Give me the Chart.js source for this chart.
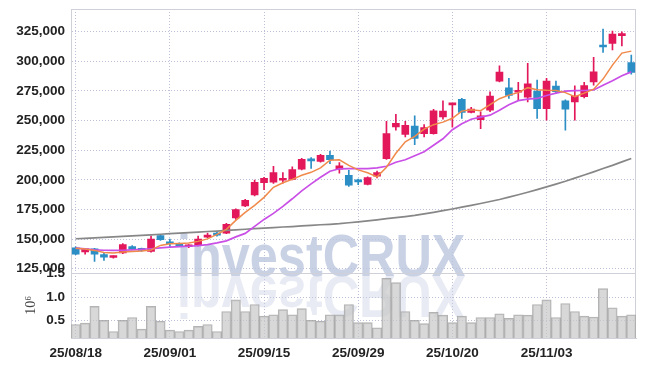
<!DOCTYPE html>
<html>
<head>
<meta charset="utf-8">
<script src="https://cdn.jsdelivr.net/npm/chart.js@4.4.1/dist/chart.umd.min.js"></script>
<style>
    html, body { margin: 0; padding: 0; background: #fff; }
    #wrap { width: 645px; height: 366px; }
</style>
</head>
<body>
<div id="wrap"><canvas id="myChart"></canvas></div>
<script>
var dates = ['25/08/18','25/08/19','25/08/20','25/08/21','25/08/22','25/08/25','25/08/26','25/08/27','25/08/28','25/08/29',
    '25/09/01','25/09/02','25/09/03','25/09/04','25/09/05','25/09/08','25/09/09','25/09/10','25/09/11','25/09/12',
    '25/09/15','25/09/16','25/09/17','25/09/18','25/09/19','25/09/22','25/09/23','25/09/24','25/09/25','25/09/26',
    '25/09/29','25/09/30','25/10/01','25/10/02','25/10/10','25/10/13','25/10/14','25/10/15','25/10/16','25/10/17',
    '25/10/20','25/10/21','25/10/22','25/10/23','25/10/24','25/10/27','25/10/28','25/10/29','25/10/30','25/10/31',
    '25/11/03','25/11/04','25/11/05','25/11/06','25/11/07','25/11/10','25/11/11','25/11/12','25/11/13','25/11/14'];

var opens = [142700,139300,141900,137000,134500,138300,143800,141900,139600,153000,
    146600,146300,143600,144700,151700,155000,155000,167800,177900,187200,
    197600,198100,199600,200400,208900,216300,215600,220700,208900,203800,
    198600,196200,203000,217900,244600,238200,245200,239000,239000,253100,
    263200,267900,256900,250800,258700,283200,277600,273800,269700,274800,
    260000,279000,266600,265700,270000,282600,313300,315000,321600,298900];
var highs = [143500,142300,142300,138300,135900,146200,144500,142400,152500,153800,
    150000,146800,145400,152600,155000,156300,163400,175500,183500,199800,
    202000,211400,206000,211000,218200,218700,221500,224300,214500,208000,
    200700,202500,207300,249400,255300,249400,253900,246600,259500,266600,
    264400,268600,261100,257300,274200,296100,285500,282100,298100,284000,
    285500,283200,267500,279200,282100,303200,327100,325400,324800,305200];
var lows = [136800,137300,131200,132000,134000,137800,141000,139600,139000,149000,
    143000,143700,142800,144200,151200,152500,154500,166600,177300,186500,
    191700,197000,197200,199800,208300,209600,214800,213600,205700,194500,
    196000,195600,201500,217200,241800,236100,229700,236100,238500,251100,
    244300,251700,256300,243200,257500,282600,268600,267200,265700,251700,
    250300,273000,241800,250300,269000,279800,307400,309400,312800,289100];
var closes = [137300,141900,137300,134800,135500,145300,141600,140500,150000,149500,
    146100,144100,145000,150000,153100,153400,162400,175000,182700,197900,
    201300,206000,201000,208600,217300,216000,220700,217000,211700,195400,
    198300,201800,206100,239000,247700,246000,234800,244000,258100,257900,
    264100,256900,259700,253900,270600,290800,271100,275200,281000,259900,
    283200,274200,259500,270500,279500,291000,312000,322900,322900,290500];

// volume in units of 10^6
var volumes = [0.41,0.44,0.80,0.50,0.26,0.50,0.56,0.31,0.80,0.48,
    0.29,0.26,0.29,0.37,0.41,0.26,0.69,0.94,0.69,0.84,
    0.59,0.62,0.73,0.62,0.75,0.50,0.48,0.62,0.62,0.84,
    0.45,0.45,0.34,1.40,1.31,0.69,0.50,0.43,0.67,0.61,
    0.45,0.59,0.45,0.56,0.56,0.64,0.54,0.62,0.61,0.84,
    0.94,0.56,0.86,0.69,0.59,0.57,1.18,0.77,0.59,0.62];

var ma5 = [142400,141700,140500,138800,138200,139200,139600,140000,140900,144700,
    146100,146400,146800,148100,150200,154000,158200,165800,172600,178500,
    185200,193700,197500,200400,203800,206300,210100,216500,216900,212200,
    208400,205900,202500,210600,222400,232100,236700,242700,246500,248600,
    251900,257900,259100,258300,263300,268400,271400,273500,277700,276000,
    275400,275200,273500,270100,273100,276400,284900,296700,306800,308500];
var ma20 = [142400,141700,141000,140600,140500,140600,140900,141300,141900,142600,
    143200,143600,144000,144500,145300,146800,148500,151900,154800,160700,
    166600,171700,177600,184000,190700,196600,202100,207200,209300,209500,
    209500,209500,210100,211400,214800,216900,220300,223700,229100,234600,
    242200,247300,251100,252800,254500,258700,263300,266700,268000,268600,
    271100,273100,274700,275200,275300,275800,279800,283600,287800,291000];
var ma120 = [150300,150700,151100,151500,151900,152300,152700,153200,153600,154100,
    154600,155000,155500,155900,156400,156800,157300,157800,158300,158800,
    159300,159700,160200,160600,161100,161600,162100,162500,163000,163800,
    164600,165400,166300,167200,168100,169000,170000,171300,172600,174000,
    175400,176900,178400,180000,181700,183400,185400,187400,189500,191700,
    194000,196400,198800,201400,204000,206700,209500,212200,215100,218000];

var priceTicks = [125000,150000,175000,200000,225000,250000,275000,300000,325000];
var volTicks = [0.5,1.0,1.5];

var UP = '#e2185b', DOWN = '#2b8ec5';
var FONT = '"Liberation Sans", Arial, sans-serif';
var tickFont = { family: FONT, size: 13.5, weight: 'bold' };

var candleColors = [];
var bodies = [];
var wicks = [];
for (var i = 0; i < dates.length; i++) {
    candleColors.push(closes[i] >= opens[i] ? UP : DOWN);
    bodies.push([opens[i], closes[i]]);
    wicks.push([lows[i], highs[i]]);
}

var gridColor = 'rgba(165,170,200,0.75)';

function noPad(s) {
    s.paddingTop = 0;
    s.paddingBottom = 0;
}

var framePlugin = {
    id: 'frame',
    beforeDatasetsDraw: function(chart) {
        var ctx = chart.ctx, area = chart.chartArea, py = chart.scales.y;
        var wx = area.left + 106, wy = py.bottom + 3;
        // watermark and its mirror image
        ctx.save();
        ctx.font = 'bold 60px ' + FONT;
        ctx.translate(wx, wy);
        ctx.scale(0.84, 1);
        ctx.fillStyle = 'rgba(188,197,222,0.8)';
        ctx.fillText('investCRUX', 0, 0);
        ctx.scale(1, -1);
        ctx.fillStyle = 'rgba(205,211,229,0.45)';
        ctx.fillText('investCRUX', 0, 0);
        ctx.restore();

        ctx.save();
        ctx.strokeStyle = '#d0d0d8';
        ctx.lineWidth = 1;
        ctx.beginPath();
        ctx.moveTo(area.left, area.top + 0.5);
        ctx.lineTo(area.right, area.top + 0.5);
        ctx.moveTo(area.right - 0.5, area.top);
        ctx.lineTo(area.right - 0.5, area.bottom);
        ctx.moveTo(area.left, Math.round(py.bottom) + 0.5);
        ctx.lineTo(area.right, Math.round(py.bottom) + 0.5);
        ctx.stroke();
        ctx.restore();
    }
};

var ctx = document.getElementById('myChart').getContext('2d');

var config = {
    type: 'bar',
    data: {
        labels: dates,
        datasets: [{
            type: 'line', data: ma5, yAxisID: 'y', order: 0,
            borderColor: '#f08a4b', borderWidth: 1.5, pointRadius: 0, fill: false
        }, {
            type: 'line', data: ma20, yAxisID: 'y', order: 0,
            borderColor: '#c94fe6', borderWidth: 1.7, pointRadius: 0, fill: false
        }, {
            type: 'line', data: ma120, yAxisID: 'y', order: 0,
            borderColor: '#878787', borderWidth: 1.7, pointRadius: 0, fill: false
        }, {
            data: bodies, yAxisID: 'y', order: 1, grouped: false,
            backgroundColor: candleColors, barThickness: 7, minBarLength: 2, borderWidth: 0
        }, {
            data: wicks, yAxisID: 'y', order: 2, grouped: false,
            backgroundColor: candleColors, barThickness: 1, borderWidth: 0
        }, {
            data: volumes, yAxisID: 'yv', order: 3, grouped: false,
            backgroundColor: 'rgba(200,200,200,0.7)', borderColor: 'rgba(160,160,160,0.8)',
            borderWidth: 1, barPercentage: 1, categoryPercentage: 1
        }]
    },
    options: {
        responsive: true,
        maintainAspectRatio: false,
        animation: false,
        layout: { padding: { left: 0, right: 9, top: 9, bottom: 0 } },
        plugins: { legend: { display: false }, tooltip: { enabled: false } },
        scales: {
            x: {
                type: 'category',
                afterBuildTicks: function(s) {
                    s.ticks = s.ticks.filter(function(t, i) { return i % 10 === 0; });
                },
                afterFit: function(s) { s.height = 28; },
                grid: { color: gridColor, offset: false, drawTicks: false },
                border: { color: '#d0d0d8', dash: [1, 2] },
                ticks: { autoSkip: false, maxRotation: 0, padding: 7, color: '#222', font: tickFont }
            },
            yv: {
                type: 'linear', position: 'left', stack: 'panes', stackWeight: 65,
                min: 0.12, max: 1.52,
                afterBuildTicks: function(s) {
                    s.ticks = volTicks.map(function(v) { return { value: v }; });
                },
                afterFit: function(s) { s.width = 71; noPad(s); },
                grid: { color: gridColor, drawTicks: false },
                border: { color: '#d0d0d8', dash: [1, 2] },
                title: {
                    display: true, text: '10\u2076', color: '#444',
                    padding: { top: 23, bottom: 0 },
                    font: { family: '"Liberation Serif", serif', size: 14 }
                },
                ticks: {
                    autoSkip: false, padding: 6, color: '#222', font: tickFont,
                    callback: function(v) { return v.toFixed(1); }
                }
            },
            y: {
                type: 'linear', position: 'left', stack: 'panes', stackWeight: 263,
                min: 121600, max: 344000,
                afterBuildTicks: function(s) {
                    s.ticks = priceTicks.map(function(v) { return { value: v }; });
                },
                afterFit: function(s) { s.width = 71; noPad(s); },
                grid: { color: gridColor, drawTicks: false },
                border: { color: '#d0d0d8', dash: [1, 2] },
                ticks: {
                    autoSkip: false, padding: 6, color: '#222', font: tickFont,
                    callback: function(v) { return v.toLocaleString('en-US'); }
                }
            }
        }
    },
    plugins: [framePlugin]
};

var myChart = new Chart(ctx, config);
</script>
</body>
</html>
